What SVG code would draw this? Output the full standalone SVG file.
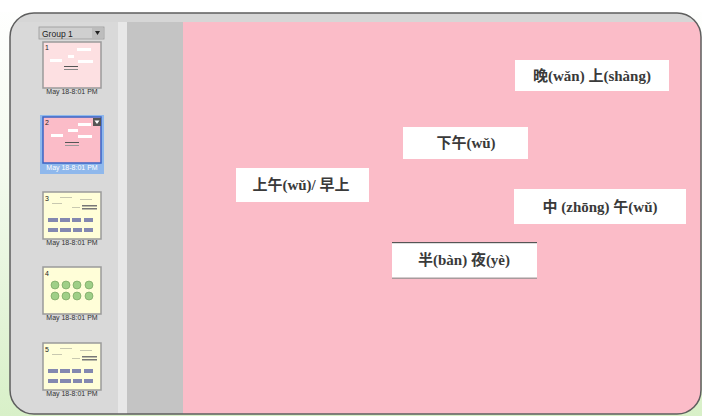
<svg xmlns="http://www.w3.org/2000/svg" width="702" height="416" viewBox="0 0 702 416">
<defs>
<linearGradient id="bg" x1="0" y1="0" x2="0" y2="1">
<stop offset="0" stop-color="#ffffff"/>
<stop offset="0.4" stop-color="#f4fbef"/>
<stop offset="1" stop-color="#d8f0c8"/>
</linearGradient>
<clipPath id="win"><rect x="10" y="13" width="691" height="401" rx="24"/></clipPath>
<style>
.lbl{font-family:"Liberation Serif","Noto Sans CJK SC",serif;font-weight:bold;font-size:15px;fill:#3a3a3a;text-anchor:middle}
.box{fill:#ffffff}
.date{font-family:"Liberation Sans",Arial,sans-serif;font-size:7px;fill:#333;text-anchor:middle}
.num{font-family:"Liberation Sans",Arial,sans-serif;font-size:7px;fill:#222}
.mini{fill:#fff}
.blk{fill:#8388b0}
.dot{fill:#9fcf87;stroke:#6d9b58;stroke-width:0.6}
.faint{fill:#c8c8b0}
</style>
</defs>
<rect width="702" height="416" fill="url(#bg)"/>
<rect x="0" y="0" width="702" height="12" fill="#ffffff"/>
<g id="window">
<rect x="10" y="13" width="691" height="401" rx="24" fill="#d9d9d9"/>
<g clip-path="url(#win)">
<rect x="10" y="14" width="692" height="8" fill="#d6d6d6"/>
<rect x="12" y="22" width="106" height="392" fill="#d9d9d9"/>
<rect x="118" y="22" width="9" height="392" fill="#e8e8e8"/>
<rect x="127" y="22" width="56" height="392" fill="#c4c4c4"/>
<rect x="183" y="22" width="519" height="394" fill="#fbbcc8"/>
</g>
<rect x="10" y="13" width="691" height="401" rx="24" fill="none" stroke="#5e5e5e" stroke-width="1.5"/>
</g>
<g id="sidebar">
<g id="group-dropdown">
<rect x="39" y="27" width="65" height="12" fill="#cfcfcf" stroke="#9a9a9a" stroke-width="0.8"/>
<rect x="92" y="28" width="11" height="10" fill="#bdbdbd"/>
<path d="M95 31 L100 31 L97.5 35 Z" fill="#222"/>
<text x="42" y="36.5" font-family="Liberation Sans, sans-serif" font-size="8.5" fill="#222">Group 1</text>
</g>
<g id="slide1">
<rect x="43" y="42" width="58" height="46" fill="#fde0e2" stroke="#9a9a9a" stroke-width="1.5"/>
<text class="num" x="45" y="50">1</text>
<rect class="mini" x="77" y="48" width="14" height="3"/>
<rect class="mini" x="68" y="55" width="6" height="3"/>
<rect class="mini" x="50" y="59" width="12" height="3"/>
<rect class="mini" x="78" y="60" width="15" height="3"/>
<rect x="64" y="66" width="14" height="1" fill="#555"/>
<rect x="64" y="69" width="14" height="1" fill="#888"/>
<text class="date" x="72" y="94">May 18-8:01 PM</text>
</g>
<g id="slide2">
<rect x="40" y="115" width="64" height="59" fill="#8fb8ec"/>
<rect x="43" y="117" width="58" height="46" fill="#fbbcc8" stroke="#3c63c4" stroke-width="1.5"/>
<text class="num" x="45" y="125">2</text>
<rect x="93" y="118" width="8" height="8" fill="#555"/>
<path d="M94.5 120.5 L99.5 120.5 L97 124 Z" fill="#fff"/>
<rect class="mini" x="78" y="123" width="13" height="3"/>
<rect class="mini" x="68" y="129" width="10" height="3"/>
<rect class="mini" x="51" y="134" width="12" height="3"/>
<rect class="mini" x="78" y="135" width="14" height="3"/>
<rect x="65" y="142" width="14" height="1" fill="#555"/>
<rect x="65" y="145" width="14" height="1" fill="#999"/>
<text class="date" x="72" y="170" style="fill:#ffffff">May 18-8:01 PM</text>
</g>
<g id="slide3">
<rect x="43" y="192" width="58" height="47" fill="#fffed8" stroke="#9a9a9a" stroke-width="1.5"/>
<text class="num" x="45" y="201">3</text>
<rect class="faint" x="60" y="197" width="12" height="1"/>
<rect class="faint" x="80" y="199" width="12" height="1"/>
<rect class="faint" x="52" y="203" width="10" height="1"/>
<rect class="faint" x="72" y="207" width="8" height="1"/>
<rect x="82" y="205" width="15" height="1.5" fill="#777"/>
<rect x="82" y="208" width="15" height="1.5" fill="#777"/>
<rect class="blk" x="48" y="218" width="10" height="4"/>
<rect class="blk" x="60" y="218" width="10" height="4"/>
<rect class="blk" x="72" y="218" width="9" height="4"/>
<rect class="blk" x="84" y="218" width="9" height="4"/>
<rect class="blk" x="48" y="228" width="10" height="4"/>
<rect class="blk" x="60" y="228" width="11" height="4"/>
<rect class="blk" x="73" y="228" width="9" height="4"/>
<rect class="blk" x="84" y="228" width="9" height="4"/>
<text class="date" x="72" y="245">May 18-8:01 PM</text>
</g>
<g id="slide4">
<rect x="43" y="267" width="58" height="47" fill="#fffed8" stroke="#9a9a9a" stroke-width="1.5"/>
<text class="num" x="45" y="276">4</text>
<circle class="dot" cx="55" cy="285" r="4"/>
<circle class="dot" cx="66" cy="285" r="4"/>
<circle class="dot" cx="77" cy="285" r="4"/>
<circle class="dot" cx="89" cy="285" r="4"/>
<circle class="dot" cx="55" cy="296" r="4"/>
<circle class="dot" cx="66" cy="296" r="4"/>
<circle class="dot" cx="77" cy="296" r="4"/>
<circle class="dot" cx="89" cy="296" r="4"/>
<text class="date" x="72" y="320">May 18-8:01 PM</text>
</g>
<g id="slide5">
<rect x="43" y="343" width="58" height="47" fill="#fffed8" stroke="#9a9a9a" stroke-width="1.5"/>
<text class="num" x="45" y="352">5</text>
<rect class="faint" x="60" y="348" width="12" height="1"/>
<rect class="faint" x="80" y="350" width="12" height="1"/>
<rect class="faint" x="52" y="354" width="10" height="1"/>
<rect class="faint" x="72" y="358" width="8" height="1"/>
<rect x="82" y="356" width="15" height="1.5" fill="#777"/>
<rect x="82" y="359" width="15" height="1.5" fill="#777"/>
<rect class="blk" x="48" y="369" width="10" height="4"/>
<rect class="blk" x="60" y="369" width="10" height="4"/>
<rect class="blk" x="72" y="369" width="9" height="4"/>
<rect class="blk" x="84" y="369" width="9" height="4"/>
<rect class="blk" x="48" y="379" width="10" height="4"/>
<rect class="blk" x="60" y="379" width="11" height="4"/>
<rect class="blk" x="73" y="379" width="9" height="4"/>
<rect class="blk" x="84" y="379" width="9" height="4"/>
<text class="date" x="72" y="396">May 18-8:01 PM</text>
</g>
</g>
<g id="connectors"></g>
<g id="node-wanshang">
<rect class="box" x="515" y="60" width="154" height="31"/>
<text class="lbl" x="592" y="80.5">晚(wǎn) 上(shàng)</text>
</g>
<g id="node-xiawu">
<rect class="box" x="403" y="127" width="125" height="32"/>
<text class="lbl" x="466" y="148">下午(wǔ)</text>
</g>
<g id="node-shangwu">
<rect class="box" x="236" y="168" width="133" height="34"/>
<text class="lbl" x="301" y="190">上午(wǔ)/ 早上</text>
</g>
<g id="node-zhongwu">
<rect class="box" x="514" y="189" width="172" height="35"/>
<text class="lbl" x="600" y="211.5">中 (zhōng) 午(wǔ)</text>
</g>
<g id="node-banye">
<rect class="box" x="392" y="242" width="145" height="37"/>
<rect x="392" y="242" width="145" height="1.2" fill="#555"/>
<rect x="392" y="277.5" width="145" height="1.5" fill="#a89a9c"/>
<text class="lbl" x="464" y="265">半(bàn) 夜(yè)</text>
</g>
</svg>
